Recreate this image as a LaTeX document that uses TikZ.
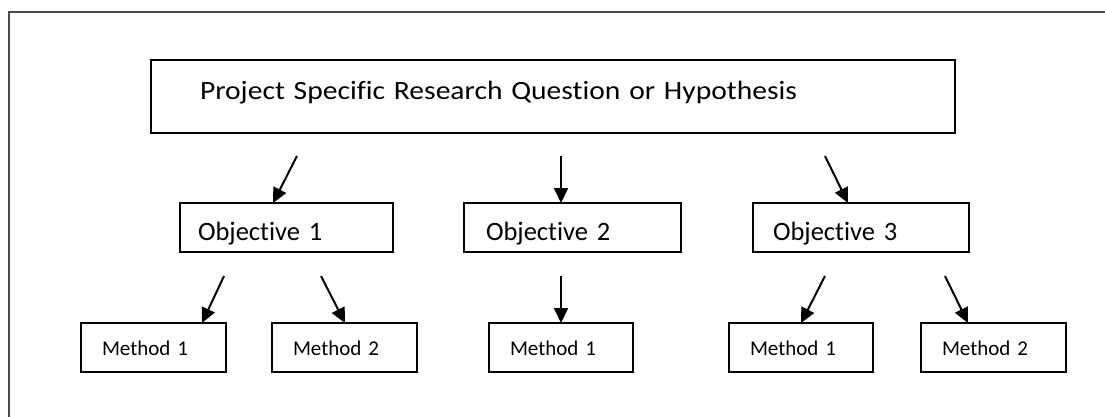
\documentclass[tikz,border=0pt]{standalone}
\usepackage{fontspec}
\setmainfont{Carlito}[Ligatures=NoCommon, WordSpace=0.8]
\newfontfamily\widecarlito{Carlito}[Ligatures=NoCommon, FakeStretch=1.12, WordSpace=0.8]
\usetikzlibrary{arrows.meta}
\definecolor{framegray}{HTML}{4A4A4A}
\tikzset{
  box/.style={draw=black, rectangle, anchor=north west, outer sep=0pt, inner ysep=0pt, align=left},
  mainbox/.style={box, line width=2.4bp, font=\widecarlito\fontsize{26.4bp}{32bp}\selectfont, text height=18bp, text depth=13bp},
  objbox/.style={box, line width=2bp, font=\fontsize{26.5bp}{30bp}\selectfont, text height=25bp, text depth=0bp},
  methbox/.style={box, line width=2bp, font=\fontsize{21bp}{25bp}\selectfont, text height=16bp, text depth=1bp},
  arr/.style={line width=2bp, -{Triangle[length=15bp,width=14bp]}},
}
\begin{document}
\begin{tikzpicture}[x=1bp,y=-1bp]
\useasboundingbox (0,0) rectangle (1105,416);
% outer frame
\coordinate (fTL) at (9,12);
\coordinate (fTR) at (1106,12);
\coordinate (fBL) at (9,417);
\draw[framegray, line width=2bp] (fTR) -- (fTL) -- (fBL);
% main box
\node[mainbox, minimum width=804bp, minimum height=73bp, inner xsep=49bp, text width=706bp] (q) at (151,60) {Project Specific Research Question or Hypothesis};
% objectives
\node[objbox, minimum width=213bp, minimum height=49bp, inner xsep=18bp, text width=177bp] (o1) at (180,203) {Objective 1};
\node[objbox, minimum width=217bp, minimum height=49bp, inner xsep=22bp, text width=173bp] (o2) at (464,203) {Objective 2};
\node[objbox, minimum width=216bp, minimum height=49bp, inner xsep=20bp, text width=176bp] (o3) at (753,203) {Objective 3};
% methods
\node[methbox, minimum width=145bp, minimum height=49bp, inner xsep=21bp, text width=103bp] (m11) at (81,323) {Method 1};
\node[methbox, minimum width=145bp, minimum height=49bp, inner xsep=21bp, text width=103bp] (m12) at (272,323) {Method 2};
\node[methbox, minimum width=144bp, minimum height=49bp, inner xsep=21bp, text width=102bp] (m21) at (489,323) {Method 1};
\node[methbox, minimum width=144bp, minimum height=49bp, inner xsep=21bp, text width=102bp] (m31) at (729,323) {Method 1};
\node[methbox, minimum width=145bp, minimum height=49bp, inner xsep=21bp, text width=103bp] (m32) at (921,323) {Method 2};
% arrow start points
\coordinate (s1) at (297,156);
\coordinate (s2) at (561,156);
\coordinate (s3) at (825,156);
\coordinate (s11) at (224,276);
\coordinate (s12) at (321,276);
\coordinate (s21) at (561,276);
\coordinate (s31) at (825,276);
\coordinate (s32) at (945,276);
% arrows
\draw[arr] (s1) -- (o1.north west -| 273,0);
\draw[arr] (s2) -- (o2.north west -| 561,0);
\draw[arr] (s3) -- (o3.north west -| 848,0);
\draw[arr] (s11) -- (m11.north west -| 202,0);
\draw[arr] (s12) -- (m12.north west -| 345,0);
\draw[arr] (s21) -- (m21.north west -| 561,0);
\draw[arr] (s31) -- (m31.north west -| 801,0);
\draw[arr] (s32) -- (m32.north west -| 968,0);
\end{tikzpicture}
\end{document}
